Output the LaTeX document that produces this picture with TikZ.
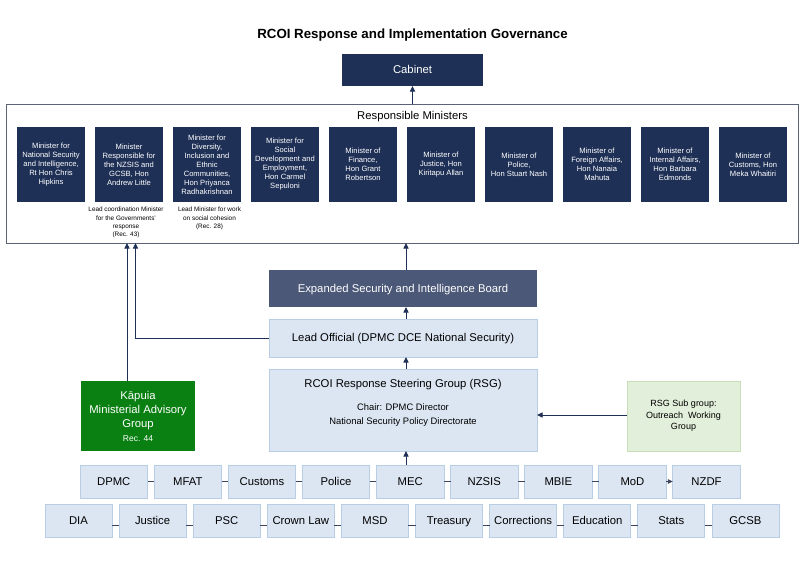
\documentclass[tikz,border=0pt]{standalone}
\usepackage{fontspec}
\setmainfont{Liberation Sans}
\usetikzlibrary{arrows.meta}
\definecolor{navy}{HTML}{1F3056}
\definecolor{esbc}{HTML}{4B5877}
\definecolor{lbfill}{HTML}{DCE6F2}
\definecolor{lbdraw}{HTML}{B9CDE5}
\definecolor{kgreen}{HTML}{0A7F12}
\definecolor{sgfill}{HTML}{E2EFDA}
\definecolor{sgdraw}{HTML}{C8DEB6}
\definecolor{outerc}{HTML}{5A6377}
\definecolor{linkc}{HTML}{3C4560}
\begin{document}
\begin{tikzpicture}[x=1pt,y=-1pt,
 every node/.style={inner sep=0pt, outer sep=0pt},
 oneline/.style={text height=8.2pt, text depth=1pt},
 minbox/.style={fill=navy, text=white, minimum width=68pt, minimum height=75pt, align=center, font=\fontsize{7.6}{9}\selectfont},
 agency/.style={fill=lbfill, draw=lbdraw, line width=0.8pt, minimum width=67pt, minimum height=33pt, oneline, font=\fontsize{11.3}{13}\selectfont},
 lightbox/.style={fill=lbfill, draw=lbdraw, line width=0.8pt, minimum width=268pt},
 arr/.style={draw=navy, line width=0.9pt, -{Triangle[length=5.5pt,width=5pt]}},
 link/.style={draw=linkc, line width=0.8pt},
 note/.style={align=center, font=\fontsize{6.4}{8.3}\selectfont}
]
\useasboundingbox (0,0) rectangle (804,568);
\fill[white] (0,0) rectangle (804,568);

\node[font=\bfseries\fontsize{13.3}{15}\selectfont] (title) at (412.5,35) {RCOI Response and Implementation Governance};
\node[fill=navy, text=white, minimum width=141pt, minimum height=32pt, oneline, font=\fontsize{11.3}{13}\selectfont] (cab) at (412.5,70) {Cabinet};

\node[draw=outerc, line width=0.9pt, minimum width=792pt, minimum height=139pt] (rm) at (402.5,173.5) {};
\node[font=\fontsize{11.3}{13}\selectfont] (rmt) at (412.5,117) {Responsible Ministers};

\node[minbox] (m1) at (51,164.5) {Minister for\\National Security\\and Intelligence,\\Rt Hon Chris\\Hipkins};
\node[minbox] (m2) at (129,164.5) {Minister\\Responsible for\\the NZSIS and\\GCSB, Hon\\Andrew Little};
\node[minbox] (m3) at (207,164.5) {Minister for\\Diversity,\\Inclusion and\\Ethnic\\Communities,\\Hon Priyanca\\Radhakrishnan};
\node[minbox] (m4) at (285,164.5) {Minister for\\Social\\Development and\\Employment,\\Hon Carmel\\Sepuloni};
\node[minbox] (m5) at (363,164.5) {Minister of\\Finance,\\Hon Grant\\Robertson};
\node[minbox] (m6) at (441,164.5) {Minister of\\Justice, Hon\\Kiritapu Allan};
\node[minbox] (m7) at (519,164.5) {Minister of\\Police,\\Hon Stuart Nash};
\node[minbox] (m8) at (597,164.5) {Minister of\\Foreign Affairs,\\Hon Nanaia\\Mahuta};
\node[minbox] (m9) at (675,164.5) {Minister of\\Internal Affairs,\\Hon Barbara\\Edmonds};
\node[minbox] (m10) at (753,164.5) {Minister of\\Customs, Hon\\Meka Whaitiri};

\node[note] (n2) at (126,222.5) {Lead coordination Minister\\for the Governments'\\response\\(Rec. 43)};
\node[note] (n3) at (209.5,218.5) {Lead Minister for work\\on social cohesion\\(Rec. 28)};

\node[fill=esbc, text=white, minimum width=268pt, minimum height=37pt, oneline, font=\fontsize{11.3}{13}\selectfont] (esb) at (403,288.5) {Expanded Security and Intelligence Board};
\node[lightbox, minimum height=38pt, oneline, font=\fontsize{11.3}{13}\selectfont] (lo) at (403,338) {Lead Official (DPMC DCE National Security)};
\node[lightbox, minimum height=82pt] (rsg) at (403,410) {};
\node[font=\fontsize{11.3}{13}\selectfont] (rsgt) at (403,385) {RCOI Response Steering Group (RSG)};
\node[align=center, font=\fontsize{9.4}{14}\selectfont] (rsgc) at (403,415) {Chair: DPMC Director\\National Security Policy Directorate};

\node[fill=kgreen, text=white, minimum width=114pt, minimum height=70pt, align=center, font=\fontsize{11.3}{14}\selectfont] (kap) at (138,416) {Kāpuia\\Ministerial Advisory\\Group\\{\fontsize{8.5}{14}\selectfont Rec. 44}};
\node[fill=sgfill, draw=sgdraw, line width=0.8pt, minimum width=113pt, minimum height=70pt, align=center, font=\fontsize{9}{11.5}\selectfont] (sg) at (683.5,416) {RSG Sub group:\\Outreach\ \ Working\\Group};

% row 1
\node[agency, minimum width=67.5pt] (dpmc) at (113.75,481.5) {DPMC};
\node[agency, minimum width=67.5pt] (mfat) at (187.85,481.5) {MFAT};
\node[agency, minimum width=67.5pt] (cust) at (261.95,481.5) {Customs};
\node[agency, minimum width=67.5pt] (pol) at (336.05,481.5) {Police};
\node[agency, minimum width=67.5pt] (mec) at (410.15,481.5) {MEC};
\node[agency, minimum width=67.5pt] (nzsis) at (484.25,481.5) {NZSIS};
\node[agency, minimum width=67.5pt] (mbie) at (558.35,481.5) {MBIE};
\node[agency, minimum width=67.5pt] (mod) at (632.45,481.5) {MoD};
\node[agency, minimum width=67.5pt] (nzdf) at (706.55,481.5) {NZDF};
% row 2
\node[agency] (dia) at (78.5,520.5) {DIA};
\node[agency] (jus) at (152.6,520.5) {Justice};
\node[agency] (psc) at (226.7,520.5) {PSC};
\node[agency] (crown) at (300.8,520.5) {Crown Law};
\node[agency] (msd) at (374.9,520.5) {MSD};
\node[agency] (tre) at (449,520.5) {Treasury};
\node[agency] (cor) at (523.1,520.5) {Corrections};
\node[agency] (edu) at (597.2,520.5) {Education};
\node[agency] (stats) at (671.3,520.5) {Stats};
\node[agency] (gcsb) at (745.4,520.5) {GCSB};

% row connectors
\foreach \a/\b in {dpmc/mfat,mfat/cust,cust/pol,pol/mec,mec/nzsis,nzsis/mbie,mbie/mod}
  \draw[link] (\a.east) -- (\b.west);
\draw[link, -{Triangle[length=5pt,width=4.5pt]}] (mod.east) -- (nzdf.west);
\foreach \a/\b in {dia/jus,jus/psc,psc/crown,crown/msd,msd/tre,tre/cor,cor/edu,edu/stats,stats/gcsb}
  \draw[link] ([yshift=-4.5pt]\a.east) -- ([yshift=-4.5pt]\b.west);

% arrows
\coordinate (ax) at (406,0);
\coordinate (kx) at (127,0);
\coordinate (lx) at (135.5,0);
\draw[arr] (rm.north -| cab) -- (cab.south);
\draw[arr] (esb.north -| ax) -- (rm.south -| ax);
\draw[arr] (lo.north -| ax) -- (esb.south -| ax);
\draw[arr] (rsg.north -| ax) -- (lo.south -| ax);
\draw[arr] (mec.north -| ax) -- (rsg.south -| ax);
\draw[arr] (sg.west |- 0,415) -- (rsg.east |- 0,415);
\draw[arr] (kap.north -| kx) -- (rm.south -| kx);
\draw[arr] (lo.west) -| (rm.south -| lx);
\end{tikzpicture}
\end{document}
